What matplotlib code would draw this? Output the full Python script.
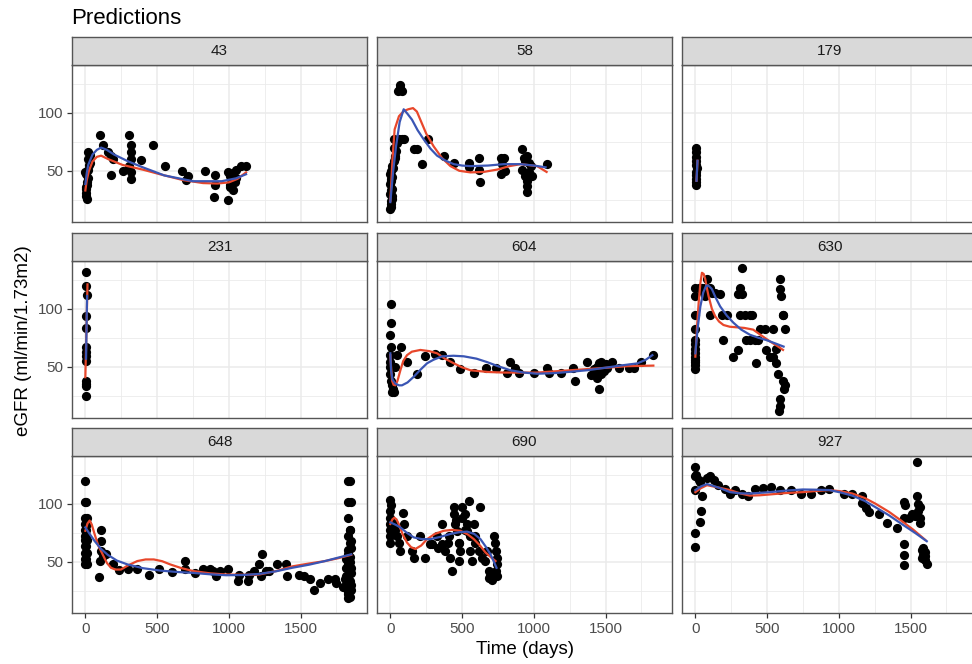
import numpy as np
import matplotlib
matplotlib.use("Agg")
import matplotlib.pyplot as plt
from matplotlib.ticker import MultipleLocator

plt.rcParams['font.family'] = ['Liberation Sans', 'DejaVu Sans']

# facet ids, in reading order
panel_ids = ["43", "58", "179", "231", "604", "630", "648", "690", "927"]

# observed eGFR (time in days, value)
obs_t_43 = [5, 5, 5, 12, 18, 0, 18, 30, 30, 18, 10, 20, 8, 25, 3, 15,
            99, 122, 156, 179, 179, 195, 259, 305, 317, 317, 317, 305, 317, 317,
            385, 473, 557, 672, 718, 705, 833, 902, 902, 895, 993, 1005, 1016,
            1005, 1028, 993, 1051, 1085, 1119, 1051, 1040, 1030, 1010]
obs_v_43 = [28.6, 31, 36, 40, 44, 49, 51, 57, 64, 66, 26, 60, 47, 55, 34, 38,
            80.6, 72, 66, 63, 46.6, 60, 50, 80.6, 72, 66, 60, 54, 48.6, 43,
            59, 72, 54, 50, 45.7, 42, 50, 46.6, 37.7, 27, 48.6, 45.7, 43,
            35.7, 33, 25, 51, 54, 54, 44, 40, 48, 38]

obs_t_58 = [0, 5, 12, 0, 12, 0, 5, 0, 5, 12, 23, 35, 42, 28, 47, 58, 23,
            3, 8, 10, 3, 8, 15, 20, 30,
            65, 70, 55, 81, 81, 93, 163, 186, 221, 260, 372, 442, 547, 547,
            616, 616, 628, 768, 791, 780, 768, 802, 919, 930, 954, 965, 919,
            940, 954, 954, 954, 977, 989, 1093, 940, 965]
obs_v_58 = [17, 21, 26, 30, 34, 38.6, 43, 47, 50, 54, 58.6, 63, 67, 70, 74, 77, 77,
            19, 24, 28, 33, 41, 45, 52, 61,
            121, 124, 118.6, 118.6, 77, 77, 69, 69, 55.7, 77, 63, 57, 57, 53,
            61, 51, 40.6, 61, 61, 55.7, 47, 50, 68.6, 61, 63, 57, 51,
            45.7, 41.4, 37, 31.4, 54, 45.7, 55.7, 58, 49]

obs_t_179 = [5, 5, 5, 8, 8, 10, 8, 5, 8, 5, 5]
obs_v_179 = [70, 66, 62, 58, 55, 52, 49, 46, 43, 40, 38]

obs_t_231 = [8, 8, 10, 8, 5, 5, 5, 8, 5, 5, 8, 5, 5]
obs_v_231 = [132, 120, 111.6, 94, 83, 67, 63, 59, 55, 38, 35.5, 33, 25]

obs_t_604 = [5, 5, 0, 5, 0, 0, 0, 0, 5, 12, 19, 23, 12, 35, 47, 74, 116, 186,
             244, 314, 361, 419, 488, 582, 670, 733, 814, 837, 872, 896, 1000,
             1093, 1105, 1186, 1275, 1284, 1368, 1396, 1419, 1454, 1465, 1477,
             1442, 1454, 1489, 1512, 1547, 1593, 1663, 1698, 1745, 1833,
             1430, 1470, 1500, 1440]
obs_v_604 = [104, 88, 77, 67, 60, 54, 50, 44, 38, 34, 30.5, 28, 28, 50, 60, 67, 54, 44,
             59, 61, 60, 54, 48.5, 45, 49, 49, 45, 54, 49, 45, 45,
             49, 45, 45, 49, 38, 54, 43, 48, 52.9, 54, 50,
             40, 31, 46, 49, 54, 49, 49, 49, 54, 60,
             45, 44, 52, 50]

obs_t_630 = [0, 0, 0, 0, 0, 0, 0, 0, 0, 0,
             23, 46, 69, 81, 58, 69, 104, 115, 138, 173, 99, 184, 191, 219, 265,
             300, 311, 323, 311, 300, 323, 346, 380, 392, 353, 380, 415, 426,
             438, 449, 484, 495, 518, 541, 541, 560, 564, 576, 588, 592, 599,
             611, 622, 611, 611, 622, 615, 588, 588, 584, 0, 0, 0]
obs_v_630 = [118, 111, 95, 82.6, 73, 65, 58.7, 54, 51.5, 48.5,
             118, 118, 118, 125.6, 114, 111, 118, 114, 114, 113, 95, 95, 73, 95, 58.7,
             64.5, 95, 135, 118, 112.5, 112.5, 95, 95, 95, 73, 73, 73, 53,
             73, 82.6, 82.6, 64.5, 58.7, 82.6, 58.7, 65, 53, 44, 125.6, 117, 111,
             95, 82.6, 95, 38, 34, 31, 22, 16.6, 12, 62, 56, 70]

obs_t_648 = [0, 0, 0, 0, 0, 0, 0, 0, 0, 0, 0, 5, 10, 5, 10, 5, 10, 5, 10, 5, 10,
             106, 106, 106, 92, 99, 122, 145, 190, 236, 294, 362, 443, 512, 603,
             695, 695, 764, 821, 867, 890, 913, 936, 993, 1062, 1074, 1131,
             1142, 1177, 1211, 1234, 1223, 1257, 1280, 1337, 1395, 1406, 1487,
             1521, 1567, 1597, 1636, 1693, 1739, 1750,
             1831, 1831, 1831, 1842, 1831, 1842, 1831, 1842, 1831, 1842, 1831,
             1842, 1831, 1842, 1831, 1819, 1853, 1808, 1796, 1853, 1819, 1853,
             1842, 1853, 1842, 1853, 1831, 1842, 1853, 1819, 1842, 1853, 1831]
obs_v_648 = [119.8, 101.5, 88, 77, 68.6, 63.7, 57.8, 52, 47.7, 72, 82.6, 101.5,
             88, 77, 68.6, 63.7, 57.8, 52, 47.7, 72, 82.6,
             77, 68, 59, 36.6, 50.6, 55, 57, 47.7, 43.3, 44, 44, 38.4, 44, 41,
             51, 44, 40.4, 44, 44, 42, 37.5, 42, 44, 33.7, 39, 33.7,
             39, 42, 47.7, 57, 37.5, 42, 42, 47.7, 47.7, 37.5, 39,
             37.5, 35.5, 26, 31.7, 35.5, 35.5, 31.7,
             119.8, 101.5, 88, 77, 72, 66, 60, 54, 48, 42, 36,
             30, 24, 20, 18.6, 45, 40, 35, 28, 62, 52, 26,
             119.8, 101.5, 77, 68, 57, 50, 45, 38, 33, 30, 22]

obs_t_690 = [0, 5, 0, 0, 0, 0, 0, 0, 23, 35, 47, 58, 70, 88, 93, 116, 151, 163,
             205, 244, 279, 326, 361, 361, 384, 407, 419, 430, 442, 442, 454,
             465, 477, 477, 488, 500, 523, 535, 547, 535, 558, 558, 570, 582,
             593, 593, 616, 628, 640, 663, 675, 686, 686, 698, 709, 721, 726,
             733, 740, 744, 733, 744, 460, 500, 520, 480, 400, 330, 290]
obs_v_690 = [103, 98.5, 93.6, 88, 82.6, 77, 72, 66.6, 82.6, 77, 72, 66.6, 59, 92, 82.6, 72, 59, 53.5,
             72, 53.5, 65, 72, 82.6, 65, 59, 72, 53.5, 42.4, 97, 91, 82.6,
             76.7, 66.6, 50.6, 59, 97, 91, 82.6, 102, 76.7, 72, 59, 50.6, 82.6,
             72, 66.6, 59, 97, 53.5, 50.6, 59, 41.9, 36, 37.5, 34.6, 72, 66.6,
             59, 53.5, 47.7, 42, 37.5, 86, 88, 77, 66, 66, 62, 65]

obs_t_927 = [0, 0, 7, 23, 0, 46, 39, 35, 0, 0, 35, 81, 104, 127, 161, 207, 242,
             276, 323, 369, 415, 472, 530, 588, 668, 737, 806, 876, 933, 1037,
             1094, 1164, 1164, 1187, 1210, 1279, 1336, 1405, 1452, 1463, 1452,
             1452, 1452, 1452, 1486, 1509, 1544, 1544, 1555, 1555, 1567, 1532,
             1567, 1578, 1590, 1601, 1613, 1578, 1601, 1590, 1601, 1567]
obs_v_927 = [132, 123.5, 125, 120.6, 111.8, 107, 93.5, 84.7, 75, 62.7, 119, 122, 123.5, 120.6, 116, 113, 108.8,
             111.8, 108, 107, 113, 114, 114.7, 111.8, 111.8, 108.8, 108.8, 111.8, 113, 108.8,
             108.8, 106.5, 100.6, 96.5, 92.6, 91, 83.8, 78.8, 101.5, 98.5, 88,
             65, 56, 47, 88, 91, 135.9, 106.5, 100, 94, 88, 89.7,
             83, 60.3, 56, 51.5, 48.5, 53, 58.8, 62, 55, 97]

# model predictions (red) and second fit (blue)
red_t_43 = [0, 10, 25, 50, 80, 110, 160, 260, 400, 520, 680, 820, 920, 1000, 1060, 1120]
red_v_43 = [33, 42, 50, 58, 62, 63, 60, 55, 51, 47, 42, 39.4, 39, 40, 43, 48.6]
blue_t_43 = [0, 10, 20, 50, 80, 110, 150, 200, 300, 400, 550, 750, 950, 1050, 1120]
blue_v_43 = [38.6, 48, 55, 64, 68, 70, 68, 64, 58, 53, 46, 41, 41, 43.5, 47]

red_t_58 = [0, 15, 30, 60, 93, 125, 158, 185, 209, 250, 302, 360, 419, 480, 558, 650, 744,
            830, 907, 1023, 1089]
red_v_58 = [24, 60, 85.7, 97, 101.4, 103, 104, 101, 94, 82, 71, 61, 54, 50, 48.6, 49, 51,
            54, 55.7, 54, 49]
blue_t_58 = [0, 20, 40, 65, 93, 120, 151, 190, 233, 280, 326, 380, 442, 500, 558, 680, 791,
             907, 1000, 1082]
blue_v_58 = [23, 50, 71.4, 92, 103, 99, 94, 85, 77, 69, 63, 59, 55.7, 54.5, 54, 54.5, 55.7,
             55.7, 54.5, 53]

red_t_179 = [8, 15]
red_v_179 = [41.4, 58.6]
blue_t_179 = [8, 15]
blue_v_179 = [41.4, 58.6]

red_t_231 = [0, 15]
red_v_231 = [41, 121]
blue_t_231 = [5, 12]
blue_v_231 = [57, 111]

red_t_604 = [0, 6, 12, 22, 35, 50, 70, 90, 116, 150, 209, 270, 326, 380, 442, 500, 558, 680,
             791, 1023, 1256, 1489, 1650, 1833]
red_v_604 = [60, 48, 38, 34.5, 34, 38, 47, 55, 60, 63, 64.5, 63.5, 61.6, 57, 53, 49.5, 47, 45.5,
             45, 45, 47, 49, 50.5, 51]
blue_t_604 = [0, 5, 15, 35, 60, 81, 120, 163, 210, 256, 300, 361, 440, 512, 600, 675, 750,
              837, 930, 1023, 1140, 1256, 1370, 1489, 1600, 1721, 1780, 1826]
blue_v_604 = [61.6, 47, 39, 35.5, 34, 34, 36.5, 41.4, 47.5, 53, 56, 59, 59.5, 59, 57, 54, 50.5,
              47, 45, 44, 44.5, 45.7, 47, 49, 51, 52.9, 56, 60]

red_t_630 = [0, 12, 23, 35, 46, 58, 69, 80, 92, 115, 138, 165, 196, 240, 288, 340, 403, 460,
             518, 570, 611]
red_v_630 = [58.7, 85, 105, 122, 131, 130, 125.6, 118, 111, 100, 93.6, 89, 86, 84.5, 84, 83.5,
             82, 77, 72, 68, 64.5]
blue_t_630 = [0, 15, 35, 55, 76, 95, 115, 140, 173, 220, 265, 320, 380, 440, 495, 560, 615]
blue_v_630 = [61.6, 82, 102, 114, 120, 119.5, 117, 110, 102, 94, 88, 82, 77.6, 75, 73, 70, 67.4]

red_t_648 = [0, 15, 30, 45, 64, 90, 122, 150, 179, 210, 248, 300, 362, 420, 477, 535, 592,
             670, 752, 870, 982, 1100, 1211, 1330, 1441, 1560, 1670, 1760, 1853]
red_v_648 = [76.7, 83, 85.5, 82, 74, 64, 56, 49, 44.8, 43.3, 43.3, 47, 50.6, 52, 52, 50.5, 47.7,
             44.5, 42, 40, 39, 38.8, 39, 42, 46, 48.5, 50.6, 53, 56]
blue_t_648 = [0, 30, 64, 110, 156, 220, 294, 400, 523, 640, 752, 870, 982, 1100, 1211, 1330,
              1441, 1560, 1670, 1760, 1853]
blue_v_648 = [79.6, 74, 68, 61, 56, 51, 47.7, 44.5, 42.4, 41.2, 40.4, 39.2, 38.4, 38.6, 39.5,
              41.8, 44.8, 47.5, 50.6, 53.5, 56.4]

red_t_690 = [0, 14, 28, 43, 58, 85, 116, 145, 174, 215, 256, 310, 372, 430, 488, 540, 582, 625,
             663, 700, 733]
red_v_690 = [82.6, 86.5, 88, 86.5, 82.6, 74, 66.6, 62.5, 61, 64, 69.5, 74, 76.7, 77.5, 76.7,
             73.5, 69.5, 64, 58, 54, 50.6]
blue_t_690 = [0, 35, 70, 115, 163, 220, 279, 350, 419, 480, 535, 585, 628, 665, 698, 720, 740]
blue_v_690 = [84, 82, 79.6, 75, 71, 69.5, 69.5, 71.5, 74, 75.5, 76, 74, 69.5, 63, 56.4, 50.5,
              44.8]

red_t_927 = [0, 40, 81, 160, 242, 310, 380, 450, 518, 630, 749, 840, 933, 1010, 1094, 1180,
             1256, 1350, 1440, 1520, 1601]
red_v_927 = [110, 113.5, 116, 114, 111.8, 109, 107, 107.3, 108, 109.2, 110, 111, 111.8, 110.8,
             108.8, 105, 100, 93, 85, 77.5, 69]
blue_t_927 = [0, 40, 81, 160, 242, 310, 380, 450, 518, 630, 749, 840, 933, 1010, 1094, 1180,
              1256, 1350, 1440, 1530, 1613]
blue_v_927 = [111.8, 115, 117, 114, 110, 109, 108.8, 109.4, 110, 111.3, 112.3, 112.1, 111.8,
              109.8, 107, 102.5, 97, 90, 82.4, 75, 67.7]

g = globals()
W, H = 972, 664
fig = plt.figure(figsize=(W / 100, H / 100), dpi=100)

col_left = [72, 377, 682]
row_top = [37, 233, 428]
pw, strip_h, ph = 295, 28, 157
border = "#555555"

for i, pid in enumerate(panel_ids):
    r, c = divmod(i, 3)
    x0 = col_left[c]
    y_strip = row_top[r]
    y_top = y_strip + strip_h
    ax = fig.add_axes([x0 / W, 1 - (y_top + ph) / H, pw / W, ph / H])
    sax = fig.add_axes([x0 / W, 1 - y_top / H, pw / W, strip_h / H])

    sax.set_facecolor("#d9d9d9")
    sax.set_xticks([])
    sax.set_yticks([])
    for s in sax.spines.values():
        s.set_color(border)
        s.set_linewidth(1.0)
    sax.text(0.5, 0.5, pid, ha="center", va="center", fontsize=11, color="#1a1a1a",
             transform=sax.transAxes)

    ax.scatter(g["obs_t_" + pid], g["obs_v_" + pid], s=44, color="black", zorder=3,
               linewidths=0)
    ax.plot(g["red_t_" + pid], g["red_v_" + pid], color="#e8472b", lw=1.6, zorder=4)
    ax.plot(g["blue_t_" + pid], g["blue_v_" + pid], color="#3a55b4", lw=1.6, zorder=5)

    ax.set_xlim(-93, 1963)
    ax.set_ylim(5.85, 141.15)
    ax.xaxis.set_major_locator(MultipleLocator(500))
    ax.xaxis.set_minor_locator(MultipleLocator(250))
    ax.yaxis.set_major_locator(MultipleLocator(50))
    ax.yaxis.set_minor_locator(MultipleLocator(25))
    ax.grid(which="major", color="#ebebeb", lw=1.1)
    ax.grid(which="minor", color="#ebebeb", lw=0.6)
    ax.set_axisbelow(True)
    for s in ax.spines.values():
        s.set_color(border)
        s.set_linewidth(1.0)
    ax.tick_params(which="minor", length=0)
    ax.tick_params(which="major", length=3.5, width=0.9, color="#333333",
                   labelsize=11, labelcolor="#4d4d4d", pad=3)
    if c != 0:
        ax.tick_params(axis="y", which="both", left=False, labelleft=False)
    if r != 2:
        ax.tick_params(axis="x", which="both", bottom=False, labelbottom=False)

fig.text(71 / W, 1 - 18 / H, "Predictions", fontsize=16, ha="left", va="center",
         color="black")
fig.text(23 / W, 1 - 341 / H, "eGFR (ml/min/1.73m2)", fontsize=13.5, rotation=90,
         ha="center", va="center")
fig.text(525 / W, 1 - 650 / H, "Time (days)", fontsize=13.5, ha="center", va="center")

fig.savefig("out.png", dpi=100)
